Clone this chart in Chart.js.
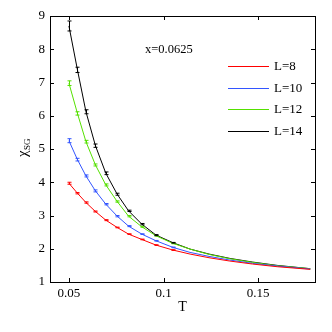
<!DOCTYPE html>
<html>
<head>
<meta charset="utf-8">
<script src="https://cdn.jsdelivr.net/npm/chart.js@4.4.0/dist/chart.umd.min.js"></script>
<style>
html, body { margin: 0; padding: 0; background: #fff; }
</style>
</head>
<body>
<canvas id="chiChart" width="332" height="332"></canvas>
<script>
// temperatures and chi_SG values
var temps = [0.05, 0.0545, 0.059, 0.064, 0.0695, 0.0755, 0.0815, 0.0885, 0.096, 0.105, 0.114, 0.124, 0.135, 0.147, 0.16, 0.1775];

var labels = ["L=8", "L=10", "L=12", "L=14"];

var chiL8  = [3.97, 3.67, 3.39, 3.12, 2.86, 2.64, 2.44, 2.28, 2.11, 1.96, 1.84, 1.73, 1.63, 1.54, 1.46, 1.38];
var chiL10 = [5.25, 4.68, 4.19, 3.74, 3.34, 2.98, 2.68, 2.44, 2.24, 2.04, 1.89, 1.77, 1.66, 1.56, 1.48, 1.39];
var chiL12 = [6.98, 6.07, 5.22, 4.52, 3.92, 3.42, 2.98, 2.66, 2.39, 2.16, 1.99, 1.83, 1.70, 1.59, 1.49, 1.40];
var chiL14 = [8.70, 7.38, 6.12, 5.10, 4.27, 3.64, 3.14, 2.74, 2.41, 2.18, 1.99, 1.84, 1.71, 1.60, 1.50, 1.40];

var errL8  = [0.03, 0.02, 0.02, 0.015, 0.015, 0.01, 0.01, 0.01, 0.01, 0.01, 0, 0, 0, 0, 0, 0];
var errL10 = [0.06, 0.04, 0.03, 0.03, 0.02, 0.02, 0.015, 0.01, 0.01, 0.01, 0, 0, 0, 0, 0, 0];
var errL12 = [0.07, 0.05, 0.04, 0.03, 0.03, 0.02, 0.02, 0.015, 0.01, 0.01, 0, 0, 0, 0, 0, 0];
var errL14 = [0.15, 0.08, 0.06, 0.05, 0.04, 0.03, 0.02, 0.02, 0.015, 0.01, 0, 0, 0, 0, 0, 0];

var xTicks = [0.05, 0.1, 0.15];
var yTicks = [1, 2, 3, 4, 5, 6, 7, 8, 9];

var colors = ["#ff0000", "#3355ff", "#55e000", "#000000"];
var serif = "'Liberation Serif', 'DejaVu Serif', serif";

function pontos(valores) {
    return temps.map(function (t, i) {
        return { x: t, y: valores[i] };
    });
}

var series = [chiL8, chiL10, chiL12, chiL14];
var errors = [errL8, errL10, errL12, errL14];

// box, inward ticks, error bars, legend and labels
var extras = {
    id: "extras",
    afterDatasetsDraw: function (chart) {
        var ctx = chart.ctx;
        var area = chart.chartArea;
        var xs = chart.scales.x;
        var ys = chart.scales.y;

        ctx.save();

        // error bars
        series.forEach(function (vals, d) {
            ctx.strokeStyle = colors[d];
            ctx.lineWidth = 1;
            vals.forEach(function (v, i) {
                var e = errors[d][i];
                if (!e) return;
                var px = Math.round(xs.getPixelForValue(temps[i])) + 0.5;
                var top = ys.getPixelForValue(v + e);
                var bot = ys.getPixelForValue(v - e);
                ctx.beginPath();
                ctx.moveTo(px, top);
                ctx.lineTo(px, bot);
                ctx.moveTo(px - 2, top);
                ctx.lineTo(px + 2, top);
                ctx.moveTo(px - 2, bot);
                ctx.lineTo(px + 2, bot);
                ctx.stroke();
            });
        });

        // axes box
        ctx.strokeStyle = "#000";
        ctx.lineWidth = 1;
        ctx.strokeRect(Math.round(area.left) + 0.5, Math.round(area.top) + 0.5,
            Math.round(area.right - area.left), Math.round(area.bottom - area.top));

        ctx.beginPath();
        xTicks.forEach(function (t) {
            var px = Math.round(xs.getPixelForValue(t)) + 0.5;
            ctx.moveTo(px, area.bottom);
            ctx.lineTo(px, area.bottom - 4);
            ctx.moveTo(px, area.top);
            ctx.lineTo(px, area.top + 4);
        });
        yTicks.forEach(function (t) {
            var py = Math.round(ys.getPixelForValue(t)) + 0.5;
            ctx.moveTo(area.left, py);
            ctx.lineTo(area.left + 4, py);
            ctx.moveTo(area.right, py);
            ctx.lineTo(area.right - 4, py);
        });
        ctx.stroke();

        // legend
        ctx.font = "13px " + serif;
        ctx.textBaseline = "middle";
        ctx.textAlign = "left";
        labels.forEach(function (lab, i) {
            var y = 66 + i * 21.5;
            ctx.strokeStyle = colors[i];
            ctx.beginPath();
            ctx.moveTo(228, Math.round(y) + 0.5);
            ctx.lineTo(269, Math.round(y) + 0.5);
            ctx.stroke();
            ctx.fillStyle = "#000";
            ctx.fillText(lab, 274, y + 1);
        });

        // annotation
        ctx.font = "12.5px " + serif;
        ctx.fillText("x=0.0625", 145, 50);

        // y axis title: chi with subscript SG
        ctx.translate(23, 148);
        ctx.rotate(-Math.PI / 2);
        ctx.textAlign = "left";
        ctx.font = "15px " + serif;
        var w = ctx.measureText("\u03c7").width;
        var sw;
        ctx.font = "9px " + serif;
        sw = ctx.measureText("SG").width;
        var start = -(w + sw) / 2;
        ctx.font = "15px " + serif;
        ctx.fillText("\u03c7", start, 0);
        ctx.font = "9px " + serif;
        ctx.fillText("SG", start + w + 0.5, 5);

        ctx.restore();
    }
};

new Chart(document.getElementById("chiChart").getContext("2d"), {
    type: "line",
    data: {
        datasets: series.map(function (vals, i) {
            return {
                label: labels[i],
                data: pontos(vals),
                borderColor: colors[i],
                borderWidth: 1,
                pointRadius: 0,
                fill: false,
                tension: 0
            };
        })
    },
    options: {
        responsive: false,
        animation: false,
        layout: { padding: { left: 0, right: 17, top: 16, bottom: 0 } },
        plugins: {
            legend: { display: false },
            tooltip: { enabled: false }
        },
        scales: {
            x: {
                type: "linear",
                min: 0.04,
                max: 0.18,
                afterBuildTicks: function (s) {
                    s.ticks = xTicks.map(function (v) { return { value: v }; });
                },
                afterFit: function (s) { s.height = 50; },
                grid: { display: false, drawTicks: false },
                border: { display: false },
                ticks: {
                    color: "#000",
                    padding: 4,
                    maxRotation: 0,
                    font: { family: serif, size: 13 },
                    callback: function (v) { return String(v); }
                },
                title: {
                    display: true,
                    text: "T",
                    color: "#000",
                    font: { family: serif, size: 14 },
                    padding: { top: 0, bottom: 16 }
                }
            },
            y: {
                min: 1,
                max: 9,
                afterBuildTicks: function (s) {
                    s.ticks = yTicks.map(function (v) { return { value: v }; });
                },
                afterFit: function (s) { s.width = 50; },
                grid: { display: false, drawTicks: false },
                border: { display: false },
                ticks: {
                    color: "#000",
                    padding: 5,
                    font: { family: serif, size: 13 }
                }
            }
        }
    },
    plugins: [extras]
});
</script>
</body>
</html>
